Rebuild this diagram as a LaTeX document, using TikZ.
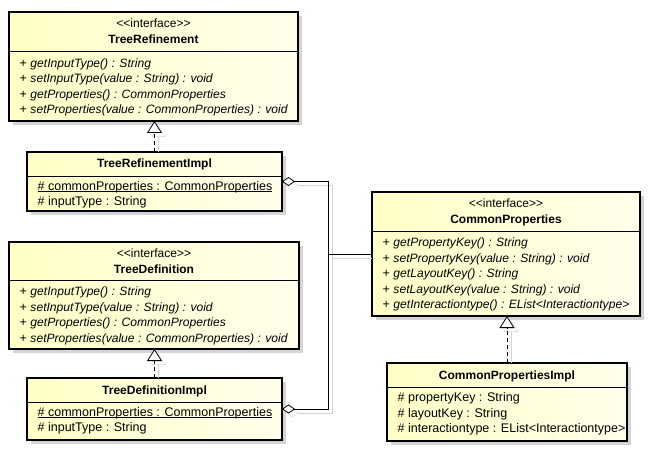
\documentclass[tikz,border=0pt]{standalone}
\usepackage{fontspec}
\setmainfont{Liberation Sans}
\usepackage{xcolor}
\usetikzlibrary{arrows.meta,shadows}

\definecolor{classleft}{RGB}{255,255,198}
\definecolor{classright}{RGB}{255,255,236}
\definecolor{shadowgray}{RGB}{212,212,212}

\newcommand\umlstereo[1]{<\kern0pt<#1>\kern0pt>}
\newcommand\umlop[1]{+ \textit{\fontsize{12.1}{15.5}\selectfont #1}}
\newcommand\umlstatic[1]{\setbox0\hbox{#1}\rlap{\rule[-1.8pt]{\wd0}{0.8pt}}\box0}

\begin{document}
\begin{tikzpicture}[x=1pt,y=-1pt,
    classbox/.style={draw, line width=1.6pt, outer sep=0pt, inner sep=0pt, anchor=north west,
        left color=classleft, right color=classright,
        drop shadow={shadow xshift=4pt, shadow yshift=-4pt, fill=shadowgray, opacity=1}},
    stereotext/.style={anchor=base, inner sep=0pt, font=\fontsize{12}{14}\selectfont},
    classname/.style={anchor=base, inner sep=0pt, font=\fontsize{12}{14}\selectfont\bfseries},
    sepline/.style={line width=0.8pt},
    members/.style={anchor=north west, inner sep=0pt, align=left, font=\fontsize{12.5}{15.5}\selectfont,
        execute at begin node={\rule{0pt}{10pt}}},
    lineshadow/.style={draw=shadowgray, solid, transform canvas={xshift=4pt,yshift=-4pt}},
    realize/.style={line width=0.8pt, dash pattern=on 4pt off 3pt,
        -{Triangle[open, fill=white, length=12pt, width=15pt]}, preaction={lineshadow, shorten <=4pt}},
    aggr/.style={line width=0.8pt, {Diamond[open, fill=white, length=13pt, width=9pt]}-, preaction={lineshadow}},
    assoc/.style={line width=0.8pt, preaction={lineshadow, shorten >=4pt}}]
    \useasboundingbox (0,0) rectangle (653,454);

    % TreeRefinement
    \node[classbox, minimum width=289pt, minimum height=109pt] (tr) at (9,12) {};
    \node[stereotext] (trst) at (tr.north |- 0,28) {\umlstereo{interface}};
    \node[classname] (trname) at (tr.north |- 0,44) {TreeRefinement};
    \draw[sepline] (tr.west |- 0,51) -- (tr.east |- 0,51);
    \node[members] (trops) at (19.5,58.5) {\umlop{getInputType() : String}\\
        \umlop{setInputType(value : String) : void}\\
        \umlop{getProperties() : CommonProperties}\\
        \umlop{setProperties(value : CommonProperties) : void}};

    % TreeRefinementImpl
    \node[classbox, minimum width=255pt, minimum height=59pt] (tri) at (27,152) {};
    \node[classname] (triname) at (tri.north |- 0,168) {TreeRefinementImpl};
    \draw[sepline] (tri.west |- 0,176) -- (tri.east |- 0,176);
    \node[members] (triattr) at (37.5,181) {\umlstatic{\# commonProperties : CommonProperties}\\
        \# inputType : String};

    % TreeDefinition
    \node[classbox, minimum width=290pt, minimum height=107pt] (td) at (9,242) {};
    \node[stereotext] (tdst) at (td.north |- 0,258) {\umlstereo{interface}};
    \node[classname] (tdname) at (td.north |- 0,274) {TreeDefinition};
    \draw[sepline] (td.west |- 0,280) -- (td.east |- 0,280);
    \node[members] (tdops) at (19.5,287) {\umlop{getInputType() : String}\\
        \umlop{setInputType(value : String) : void}\\
        \umlop{getProperties() : CommonProperties}\\
        \umlop{setProperties(value : CommonProperties) : void}};

    % TreeDefinitionImpl
    \node[classbox, minimum width=255pt, minimum height=62pt] (tdi) at (27,378) {};
    \node[classname] (tdiname) at (tdi.north |- 0,394) {TreeDefinitionImpl};
    \draw[sepline] (tdi.west |- 0,402) -- (tdi.east |- 0,402);
    \node[members] (tdiattr) at (37.5,407) {\umlstatic{\# commonProperties : CommonProperties}\\
        \# inputType : String};

    % CommonProperties
    \node[classbox, minimum width=268pt, minimum height=124pt] (cp) at (372,192) {};
    \node[stereotext] (cpst) at (cp.north |- 0,208) {\umlstereo{interface}};
    \node[classname] (cpname) at (cp.north |- 0,224) {CommonProperties};
    \draw[sepline] (cp.west |- 0,231) -- (cp.east |- 0,231);
    \node[members] (cpops) at (382.5,238) {\umlop{getPropertyKey() : String}\\
        \umlop{setPropertyKey(value : String) : void}\\
        \umlop{getLayoutKey() : String}\\
        \umlop{setLayoutKey(value : String) : void}\\
        \umlop{getInteractiontype() : EList<Interactiontype>}};

    % CommonPropertiesImpl
    \node[classbox, minimum width=240pt, minimum height=78pt] (cpi) at (387,363) {};
    \node[classname] (cpiname) at (cpi.north |- 0,379) {CommonPropertiesImpl};
    \draw[sepline] (cpi.west |- 0,387) -- (cpi.east |- 0,387);
    \node[members] (cpiattr) at (397.5,392.5) {\# propertyKey : String\\
        \# layoutKey : String\\
        \# interactiontype : EList<Interactiontype>};

    % connectors
    \draw[realize] (tri.north) -- (tri.north |- tr.south);
    \draw[realize] (tdi.north) -- (tdi.north |- td.south);
    \draw[realize] (cpi.north) -- (cpi.north |- cp.south);
    \coordinate (j) at (cp.west -| 328,0);
    \draw[aggr] (tri.east) -| (j);
    \draw[aggr] (tdi.east) -| (j);
    \draw[assoc] (j) -- (cp.west);
\end{tikzpicture}
\end{document}
